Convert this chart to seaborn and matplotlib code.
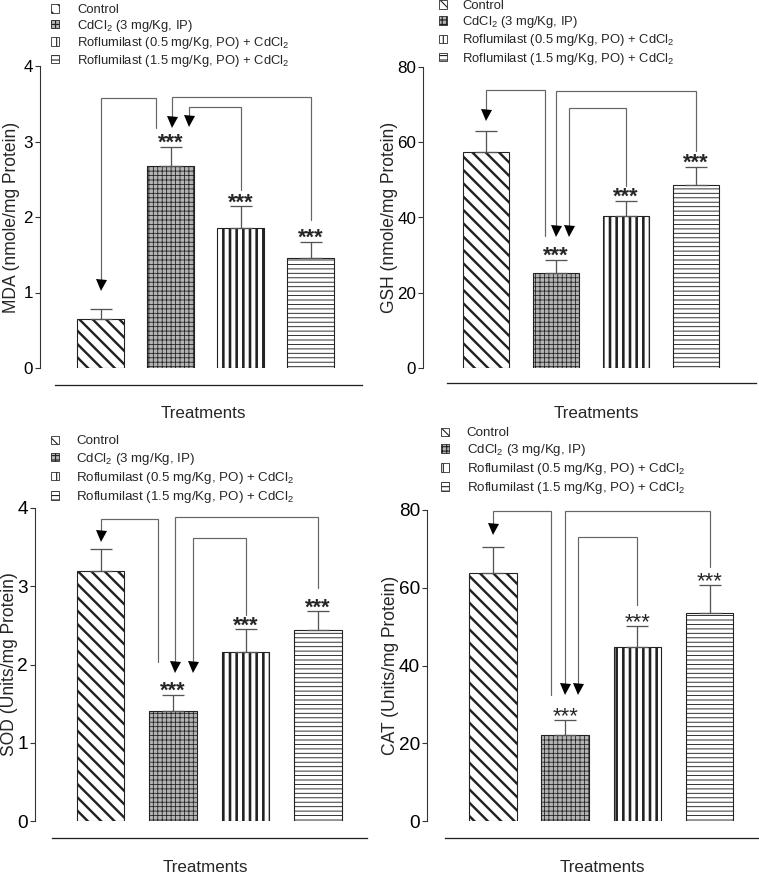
import numpy as np
import pandas as pd
import seaborn as sns
import matplotlib.pyplot as plt
from matplotlib.patches import Patch

W, H, DPI = 759, 876, 80
PT = 72 / DPI  # points per pixel

treatments = ['Control',
              'CdCl$_2$ (3 mg/Kg, IP)',
              'Roflumilast (0.5 mg/Kg, PO) + CdCl$_2$',
              'Roflumilast (1.5 mg/Kg, PO) + CdCl$_2$']
stars = ['', '***', '***', '***']

mda_mean = [0.65, 2.67, 1.86, 1.46]
mda_sem = [0.13, 0.26, 0.28, 0.21]
gsh_mean = [57.5, 25.2, 40.4, 48.7]
gsh_sem = [5.5, 3.6, 4.1, 4.8]
sod_mean = [3.19, 1.40, 2.16, 2.44]
sod_sem = [0.28, 0.21, 0.29, 0.24]
cat_mean = [63.7, 22.1, 44.8, 53.5]
cat_sem = [6.9, 3.9, 5.4, 7.2]

# bar styles
faces = ['white', '#b4b4b4', 'white', 'white']
hatches = ['\\\\', '+++', '||', '---']
hatch_lw = [2.4, 0.8, 2.6, 0.9]

sns.set_style('white')
plt.rcParams['font.family'] = ['Liberation Sans', 'DejaVu Sans']
plt.rcParams['mathtext.fontset'] = 'custom'
plt.rcParams['mathtext.rm'] = 'Liberation Sans'
plt.rcParams['mathtext.it'] = 'Liberation Sans:italic'
plt.rcParams['mathtext.bf'] = 'Liberation Sans:bold'

# layout of each panel in pixels
panels = [
    dict(mean=mda_mean, sem=mda_sem, ylabel='MDA (nmole/mg Protein)', yticks=[0, 1, 2, 3, 4],
         spine_x=40, top_y=66, zero_y=368, x0=100.5, step=70, right_x=365,
         line=(55, 362, 385), ylab_x=12, treat=(203, 413), tick_fs=17, star_w='bold',
         leg=(51.3, 4, 13, 1.4, 0.12),
         brackets=[(1, 0, -0.21, 0.0, 32, 19, 19), (3, 1, 0.0, 0.02, 31, 22, 19), (2, 1, 0.0, 0.27, 41, 16, 20)]),
    dict(mean=gsh_mean, sem=gsh_sem, ylabel='GSH (nmole/mg Protein)', yticks=[0, 20, 40, 60, 80],
         spine_x=423, top_y=67, zero_y=368, x0=486, step=70, right_x=758,
         line=(447, 756, 383), ylab_x=390, treat=(596, 413), tick_fs=17, star_w='bold',
         leg=(439.3, 0, 13, 1.17, 0.17),
         brackets=[(1, 0, -0.16, 0.0, 23, 24, 10), (3, 1, 0.0, 0.0, 24, 16, 23), (2, 1, 0.0, 0.19, 41, 15, 23)]),
    dict(mean=sod_mean, sem=sod_sem, ylabel='SOD (Units/mg Protein)', yticks=[0, 1, 2, 3, 4],
         spine_x=35, top_y=508, zero_y=821, x0=100.5, step=72.5, right_x=370,
         line=(52, 367, 838), ylab_x=10, treat=(205, 867), tick_fs=19, star_w='bold',
         leg=(51.1, 435.5, 13.4, 1.25, 0.24),
         brackets=[(1, 0, -0.21, 0.0, 11, 33, 8), (3, 1, 0.0, 0.03, 9, 23, 23), (2, 1, 0.0, 0.28, 30, 14, 23)]),
    dict(mean=cat_mean, sem=cat_sem, ylabel='CAT (Units/mg Protein)', yticks=[0, 20, 40, 60, 80],
         spine_x=427, top_y=510, zero_y=821, x0=493, step=72.2, right_x=759,
         line=(445, 758, 838), ylab_x=390, treat=(602, 868), tick_fs=19, star_w='normal',
         leg=(441.1, 427.5, 13.4, 1.32, 0.22),
         brackets=[(1, 0, -0.2, 0.0, 1, 25, 12), (3, 1, 0.0, 0.0, 1, 18, 25), (2, 1, 0.0, 0.18, 27, 21, 25)]),
]

fig = plt.figure(figsize=(W / DPI, H / DPI), dpi=DPI)

for p in panels:
    wpx = p['right_x'] - p['spine_x']
    hpx = p['zero_y'] - p['top_y']
    ax = fig.add_axes([p['spine_x'] / W, 1 - p['zero_y'] / H, wpx / W, hpx / H])
    mean = np.array(p['mean'])
    sem = np.array(p['sem'])
    df = pd.DataFrame({'Treatment': treatments, 'Value': mean})
    sns.barplot(data=df, x='Treatment', y='Value', hue='Treatment', order=treatments,
                hue_order=treatments, palette=dict(zip(treatments, faces)), dodge=False,
                width=0.66, legend=False, errorbar=None, edgecolor='#222',
                linewidth=1.1 * PT, ax=ax)
    for bar, h, lw in zip(ax.patches, hatches, hatch_lw):
        bar.set_hatch(h)
        if hasattr(bar, 'set_hatch_linewidth'):
            bar.set_hatch_linewidth(lw * PT)

    ax.errorbar(np.arange(4), mean, yerr=[np.zeros(4), sem], fmt='none', ecolor='#555',
                elinewidth=1.3 * PT, capsize=11 * PT, capthick=1.3 * PT, zorder=3)

    ymax = p['yticks'][-1]
    dy = ymax / hpx  # data units per pixel
    ax.set_xlim((p['spine_x'] - p['x0']) / p['step'], (p['right_x'] - p['x0']) / p['step'])
    ax.set_ylim(0, ymax)

    # significance stars
    for i, s in enumerate(stars):
        if s:
            ax.annotate(s, xy=(i, mean[i] + sem[i]), xytext=(0, -2 * PT), textcoords='offset points',
                        ha='center', va='baseline', fontsize=22 * PT, fontweight=p['star_w'],
                        annotation_clip=False)

    # comparison brackets with arrowheads
    for src, dst, sdx, ddx, top_px, start_px, tip_px in p['brackets']:
        xs = src + sdx
        ys = mean[src] + sem[src] + start_px * dy
        yt = ymax - top_px * dy
        xd = dst + ddx
        ytip = mean[dst] + sem[dst] + tip_px * dy
        ax.plot([xs, xs, xd, xd], [ys, yt, yt, ytip + 6 * dy], color='#666', lw=1.2 * PT,
                clip_on=False, solid_joinstyle='miter')
        ax.plot([xd], [ytip + 5.5 * dy], marker='v', ms=11 * PT, color='black', mec='black',
                mew=0, clip_on=False)

    # axes styling
    sns.despine(ax=ax)
    ax.spines['left'].set_color('#333')
    ax.spines['left'].set_linewidth(1.1 * PT)
    ax.spines['bottom'].set_color('#222')
    ax.spines['bottom'].set_linewidth(1.3 * PT)
    ax.spines['bottom'].set_position(('outward', (p['line'][2] - p['zero_y']) * PT))
    ax.spines['bottom'].set_bounds((p['line'][0] - p['x0']) / p['step'],
                                   (p['line'][1] - p['x0']) / p['step'])
    ax.set_xticks([])
    ax.set_yticks(p['yticks'])
    ax.tick_params(axis='y', left=True, length=5 * PT, width=1.1 * PT, pad=2 * PT,
                   labelsize=p['tick_fs'] * PT, color='#333', labelcolor='black')

    ax.set_ylabel(p['ylabel'], fontsize=17.5 * PT, va='center')
    ax.yaxis.set_label_coords((p['ylab_x'] - p['spine_x']) / wpx, 0.5)
    ax.set_xlabel('Treatments', fontsize=17 * PT, va='center')
    ax.xaxis.set_label_coords((p['treat'][0] - p['spine_x']) / wpx,
                              -(p['treat'][1] - p['zero_y']) / hpx)

    # legend
    lx, ly, lfs, lpad, lsp = p['leg']
    handles = [Patch(facecolor=f, edgecolor='#222', hatch=h, linewidth=0.8 * PT)
               for f, h in zip(faces, hatches)]
    fig.legend(handles, treatments, loc='upper left', bbox_to_anchor=(lx / W, 1 - ly / H),
               frameon=False, fontsize=lfs * PT, handlelength=0.6, handleheight=0.6,
               handletextpad=lpad, labelspacing=lsp, borderpad=0, borderaxespad=0)

fig.savefig('out.png', dpi=DPI)
